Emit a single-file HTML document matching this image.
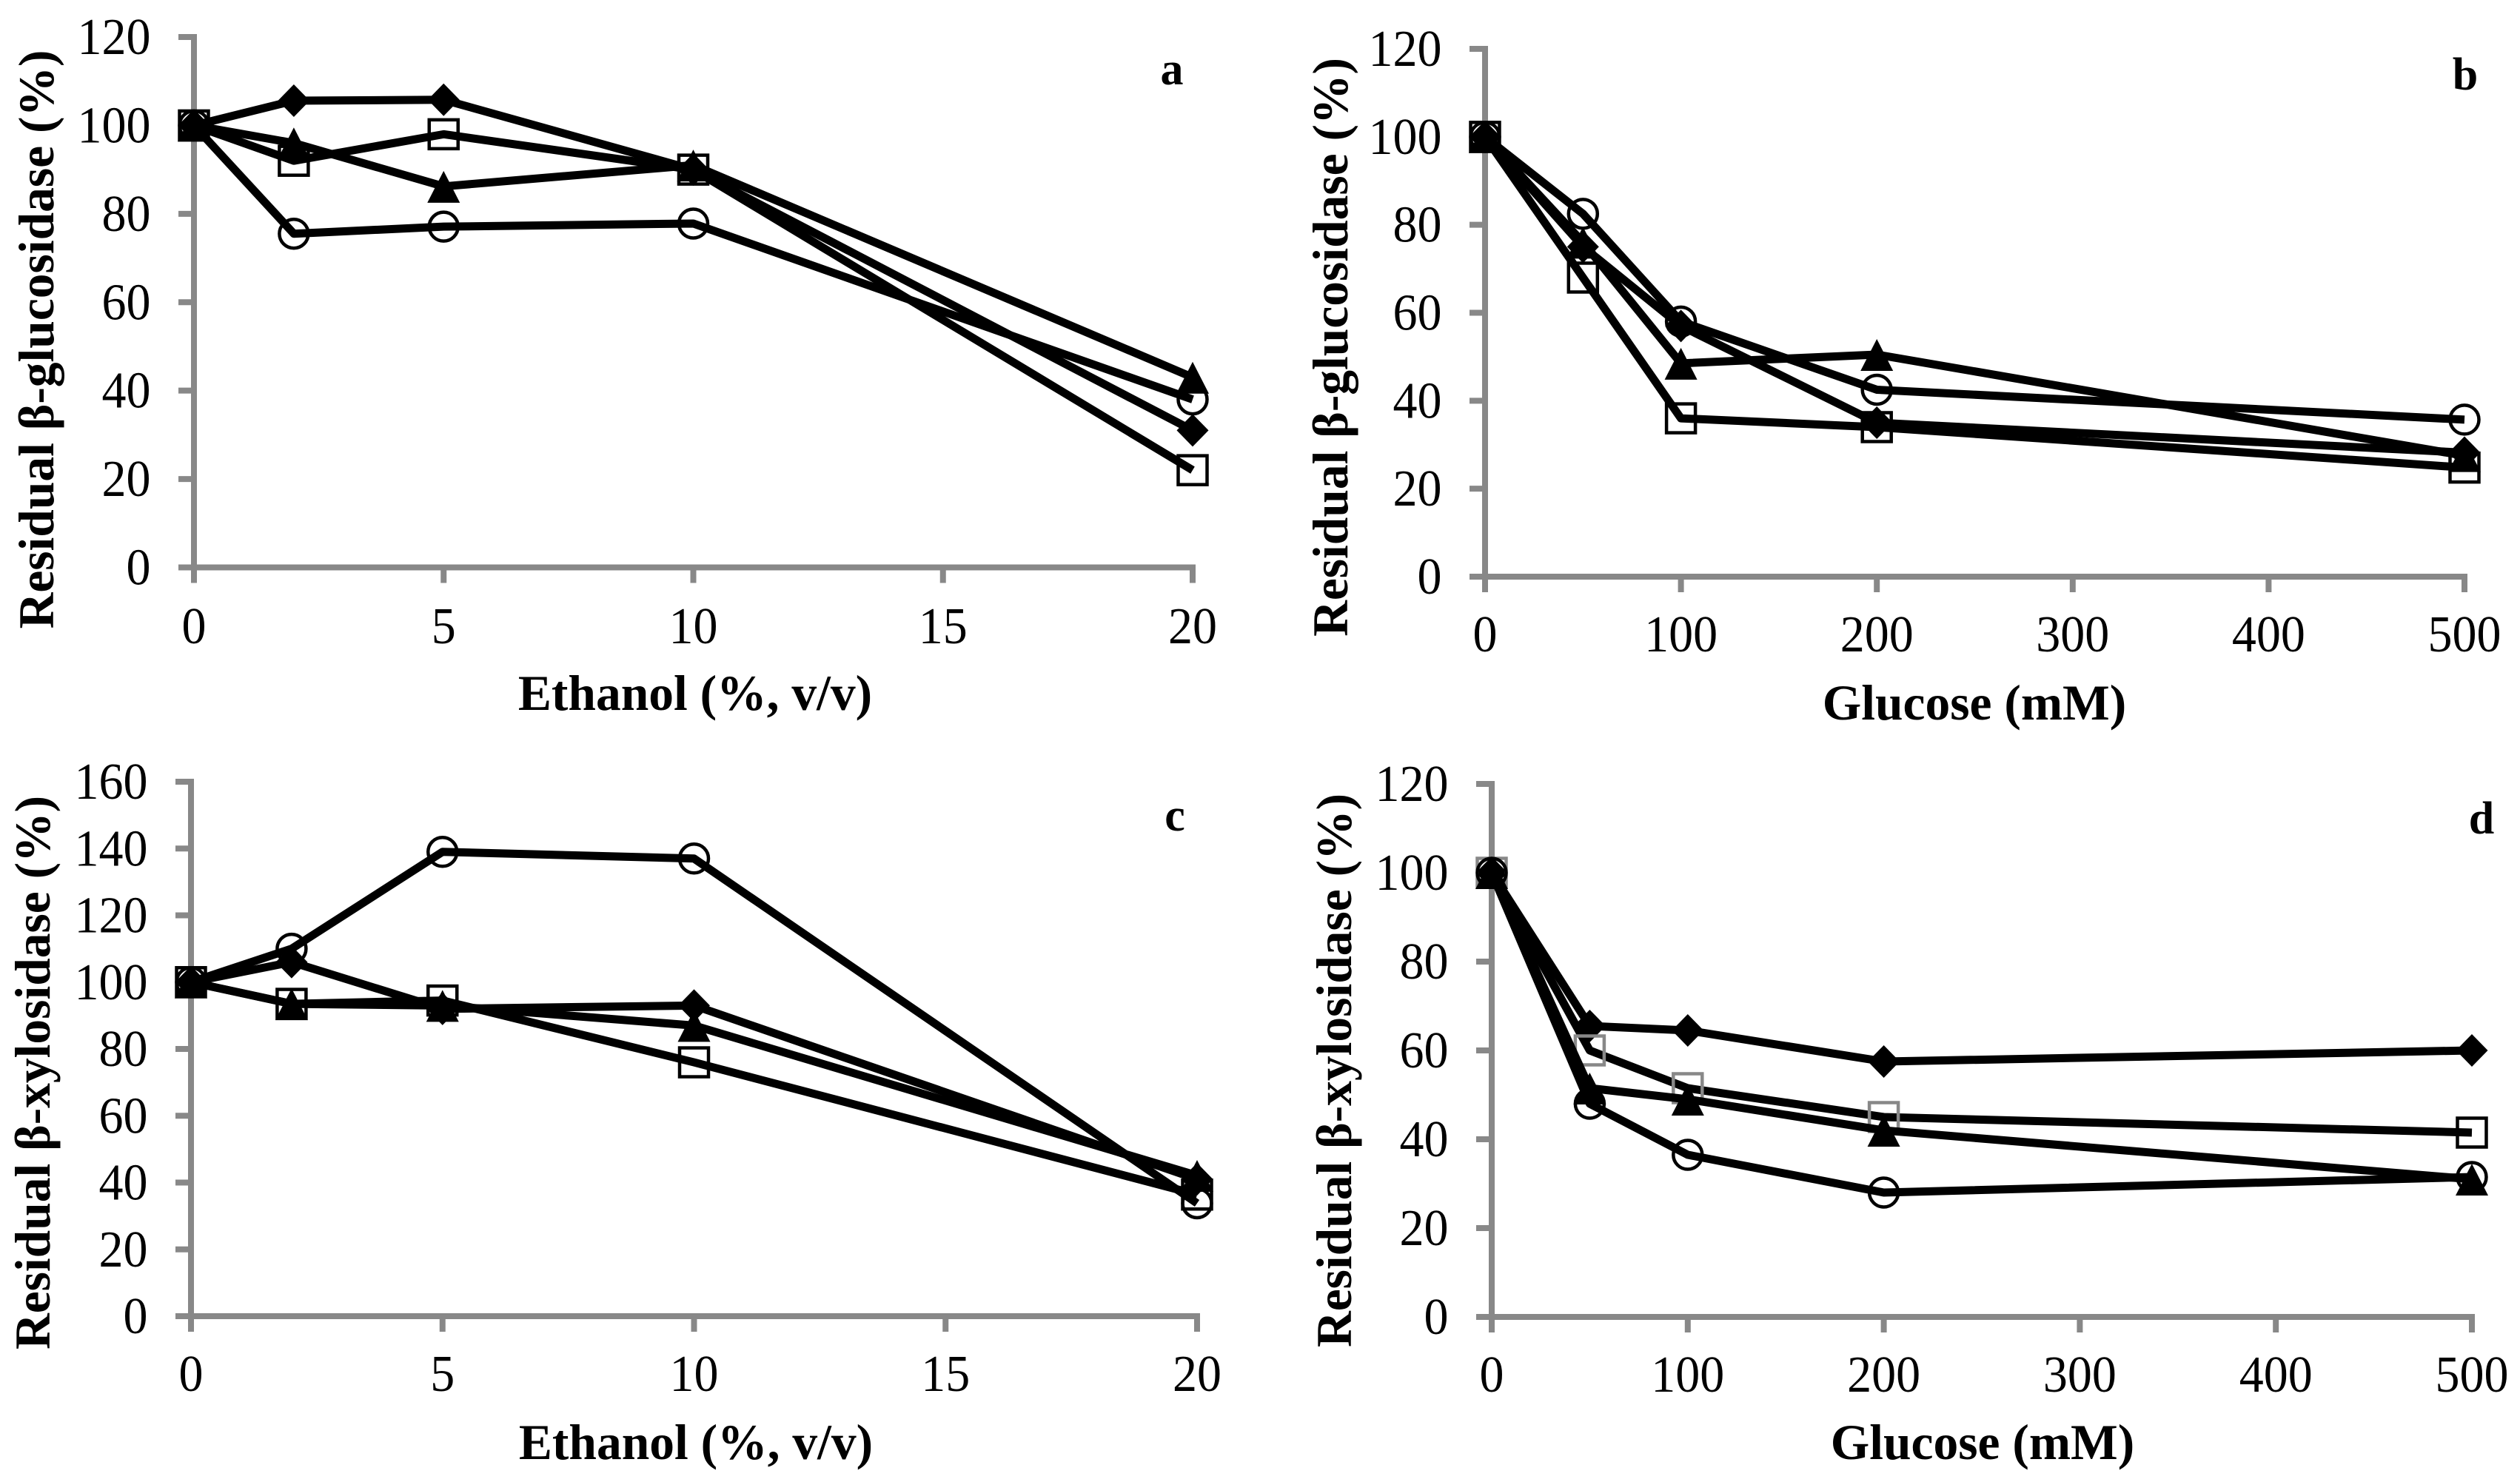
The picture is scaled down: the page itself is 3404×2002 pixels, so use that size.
<!DOCTYPE html>
<html lang="en">
<head>
<meta charset="utf-8">
<title>Residual enzyme activity charts</title>
<style>
html,body{margin:0;padding:0;background:#fff;width:3404px;height:2002px;overflow:hidden}
svg{display:block}
text{font-family:"Liberation Serif",serif;fill:#000}
.tick{font-size:66px}
.title{font-size:67.5px;font-weight:bold}
.letter{font-size:62px;font-weight:bold}
</style>
</head>
<body>
<svg id="figure" xmlns="http://www.w3.org/2000/svg" width="3404" height="2002" viewBox="0 0 3404 2002">
  <rect width="3404" height="2002" fill="#fff"/>

  <g id="panel-a"></g>
  <text class="title" text-anchor="middle" transform="translate(72,458.5) rotate(-90)">Residual β-glucosidase (%)</text>
  <text class="title" text-anchor="middle" x="939" y="959">Ethanol (%, v/v)</text>
  <text class="letter" text-anchor="middle" x="1583" y="114">a</text>

  <g id="panel-b"></g>
  <text class="title" text-anchor="middle" transform="translate(1820,469) rotate(-90)">Residual β-glucosidase (%)</text>
  <text class="title" text-anchor="middle" x="2667" y="972">Glucose (mM)</text>
  <text class="letter" text-anchor="middle" x="3330" y="121">b</text>

  <g id="panel-c"></g>
  <text class="title" text-anchor="middle" transform="translate(67,1449) rotate(-90)">Residual β-xylosidase (%)</text>
  <text class="title" text-anchor="middle" x="940" y="1971">Ethanol (%, v/v)</text>
  <text class="letter" text-anchor="middle" x="1587" y="1122">c</text>

  <g id="panel-d"></g>
  <text class="title" text-anchor="middle" transform="translate(1825,1446) rotate(-90)">Residual β-xylosidase (%)</text>
  <text class="title" text-anchor="middle" x="2678" y="1971">Glucose (mM)</text>
  <text class="letter" text-anchor="middle" x="3352" y="1126">d</text>
</svg>

<script>
// ---------- data ----------
const ethanolLevels = [0, 2, 5, 10, 20];
const glucoseLevels = [0, 50, 100, 200, 500];

const ethanolTickLabels = [0, 5, 10, 15, 20];
const glucoseTickLabels = [0, 100, 200, 300, 400, 500];
const residualTickLabels120 = [0, 20, 40, 60, 80, 100, 120];
const residualTickLabels160 = [0, 20, 40, 60, 80, 100, 120, 140, 160];

const panelADiamond = [100, 105.6, 105.8, 90, 31];
const panelASquare = [100, 92, 98, 90, 22];
const panelATriangle = [100, 96, 86.2, 91, 43];
const panelACircle = [100, 75.5, 77.1, 77.8, 38];

const panelBDiamond = [100, 75, 57, 35, 28.2];
const panelBSquare = [100, 68, 36, 34, 24.8];
const panelBTriangle = [100, 76, 48.5, 50.5, 27.5];
const panelBCircle = [100, 82.5, 58, 42.5, 35.7];

const panelCDiamond = [100, 106, 92, 93, 41];
const panelCSquare = [100, 93.5, 94.5, 76, 36.4];
const panelCTriangle = [100, 93.5, 93, 87, 42.1];
const panelCCircle = [100, 110, 139, 137, 33.8];

const panelDDiamond = [100, 65.5, 64.5, 57.5, 60];
const panelDSquare = [100, 60, 51.5, 45, 41.5];
const panelDTriangle = [100, 51.5, 49, 42, 31];
const panelDCircle = [100, 48, 36.5, 28, 31.5];

// ---------- drawing ----------
const SVG_NS = 'http://www.w3.org/2000/svg';
const AXIS_GRAY = '#888888';

function make(parent, tag, attrs) {
  const el = document.createElementNS(SVG_NS, tag);
  for (const k in attrs) el.setAttribute(k, attrs[k]);
  parent.appendChild(el);
  return el;
}

function drawAxes(group, prefix, box, xTicks, yTicks, xScale, yScale) {
  const xAxis = make(group, 'line', {x1: box.left - 4, y1: box.bottom, x2: box.right + 4, y2: box.bottom, stroke: AXIS_GRAY, 'stroke-width': 8});
  
  
  const yAxis = make(group, 'line', {x1: box.left, y1: box.top - 4, x2: box.left, y2: box.bottom + 4, stroke: AXIS_GRAY, 'stroke-width': 8});
  
  

  xTicks.forEach(function (v) {
    const x = xScale(v);
    const tick = make(group, 'line', {x1: x, y1: box.bottom, x2: x, y2: box.bottom + 21, stroke: AXIS_GRAY, 'stroke-width': 8});
    
    
    const label = make(group, 'text', {transform: 'translate(' + x + ',' + box.xLabelY + ') scale(1,1.06)', 'text-anchor': 'middle', 'class': 'tick'});
    
    
    label.textContent = v;
  });

  yTicks.forEach(function (v) {
    const y = yScale(v);
    const tick = make(group, 'line', {x1: box.left - 21, y1: y, x2: box.left, y2: y, stroke: AXIS_GRAY, 'stroke-width': 8});
    
    
    const label = make(group, 'text', {transform: 'translate(' + (box.left - 58.5) + ',' + (y + 23) + ') scale(1,1.06)', 'text-anchor': 'end', 'class': 'tick'});
    
    
    label.textContent = v;
  });
}

function drawMarker(group, shape, cx, cy, color) {
  if (shape === 'diamond') {
    return make(group, 'polygon', {points: [cx, cy - 22, cx + 21.5, cy, cx, cy + 22, cx - 21.5, cy].join(' '), fill: '#000'});
  }
  if (shape === 'triangle') {
    return make(group, 'polygon', {points: [cx, cy - 21, cx + 22, cy + 22, cx - 22, cy + 22].join(' '), fill: '#000'});
  }
  if (shape === 'square') {
    return make(group, 'rect', {x: cx - 19.5, y: cy - 19.5, width: 39, height: 39, fill: 'none', stroke: color, 'stroke-width': 4.5});
  }
  return make(group, 'circle', {cx: cx, cy: cy, r: 19.5, fill: 'none', stroke: '#000', 'stroke-width': 4.5});
}

function drawSeries(group, prefix, shape, xValues, yValues, xScale, yScale, colorAt) {
  const g = make(group, 'g', {});
  
  

  const pts = xValues.map(function (x, i) { return xScale(x) + ',' + yScale(yValues[i]); }).join(' ');
  const line = make(g, 'polyline', {points: pts, fill: 'none', stroke: '#000', 'stroke-width': 11, 'stroke-linejoin': 'round'});
  
  

  xValues.forEach(function (x, i) {
    const mark = drawMarker(g, shape, xScale(x), yScale(yValues[i]), colorAt(i));
    
    
  });
}

function drawPanel(id, box, xValues, xTicks, yTicks, series, colorAt) {
  const group = document.getElementById(id);
  const xMax = xTicks[xTicks.length - 1];
  const yMax = yTicks[yTicks.length - 1];
  const xScale = function (v) { return box.left + (v / xMax) * (box.right - box.left); };
  const yScale = function (v) { return box.bottom - (v / yMax) * (box.bottom - box.top); };
  drawAxes(group, id, box, xTicks, yTicks, xScale, yScale);
  ['diamond', 'square', 'triangle', 'circle'].forEach(function (shape, i) {
    drawSeries(group, id, shape, xValues, series[i], xScale, yScale, shape === 'square' ? colorAt : function () { return '#000'; });
  });
}

const allBlack = function () { return '#000'; };

drawPanel('panel-a', {left: 262, right: 1611, top: 50, bottom: 766.5, xLabelY: 869},
  ethanolLevels, ethanolTickLabels, residualTickLabels120,
  [panelADiamond, panelASquare, panelATriangle, panelACircle], allBlack);

drawPanel('panel-b', {left: 2006, right: 3329, top: 66, bottom: 779, xLabelY: 880},
  glucoseLevels, glucoseTickLabels, residualTickLabels120,
  [panelBDiamond, panelBSquare, panelBTriangle, panelBCircle], allBlack);

drawPanel('panel-c', {left: 258, right: 1617, top: 1056, bottom: 1778, xLabelY: 1879},
  ethanolLevels, ethanolTickLabels, residualTickLabels160,
  [panelCDiamond, panelCSquare, panelCTriangle, panelCCircle], allBlack);

drawPanel('panel-d', {left: 2015, right: 3339, top: 1059, bottom: 1779, xLabelY: 1880},
  glucoseLevels, glucoseTickLabels, residualTickLabels120,
  [panelDDiamond, panelDSquare, panelDTriangle, panelDCircle],
  function (i) { return i < 4 ? AXIS_GRAY : '#000'; });
</script>
</body>
</html>
